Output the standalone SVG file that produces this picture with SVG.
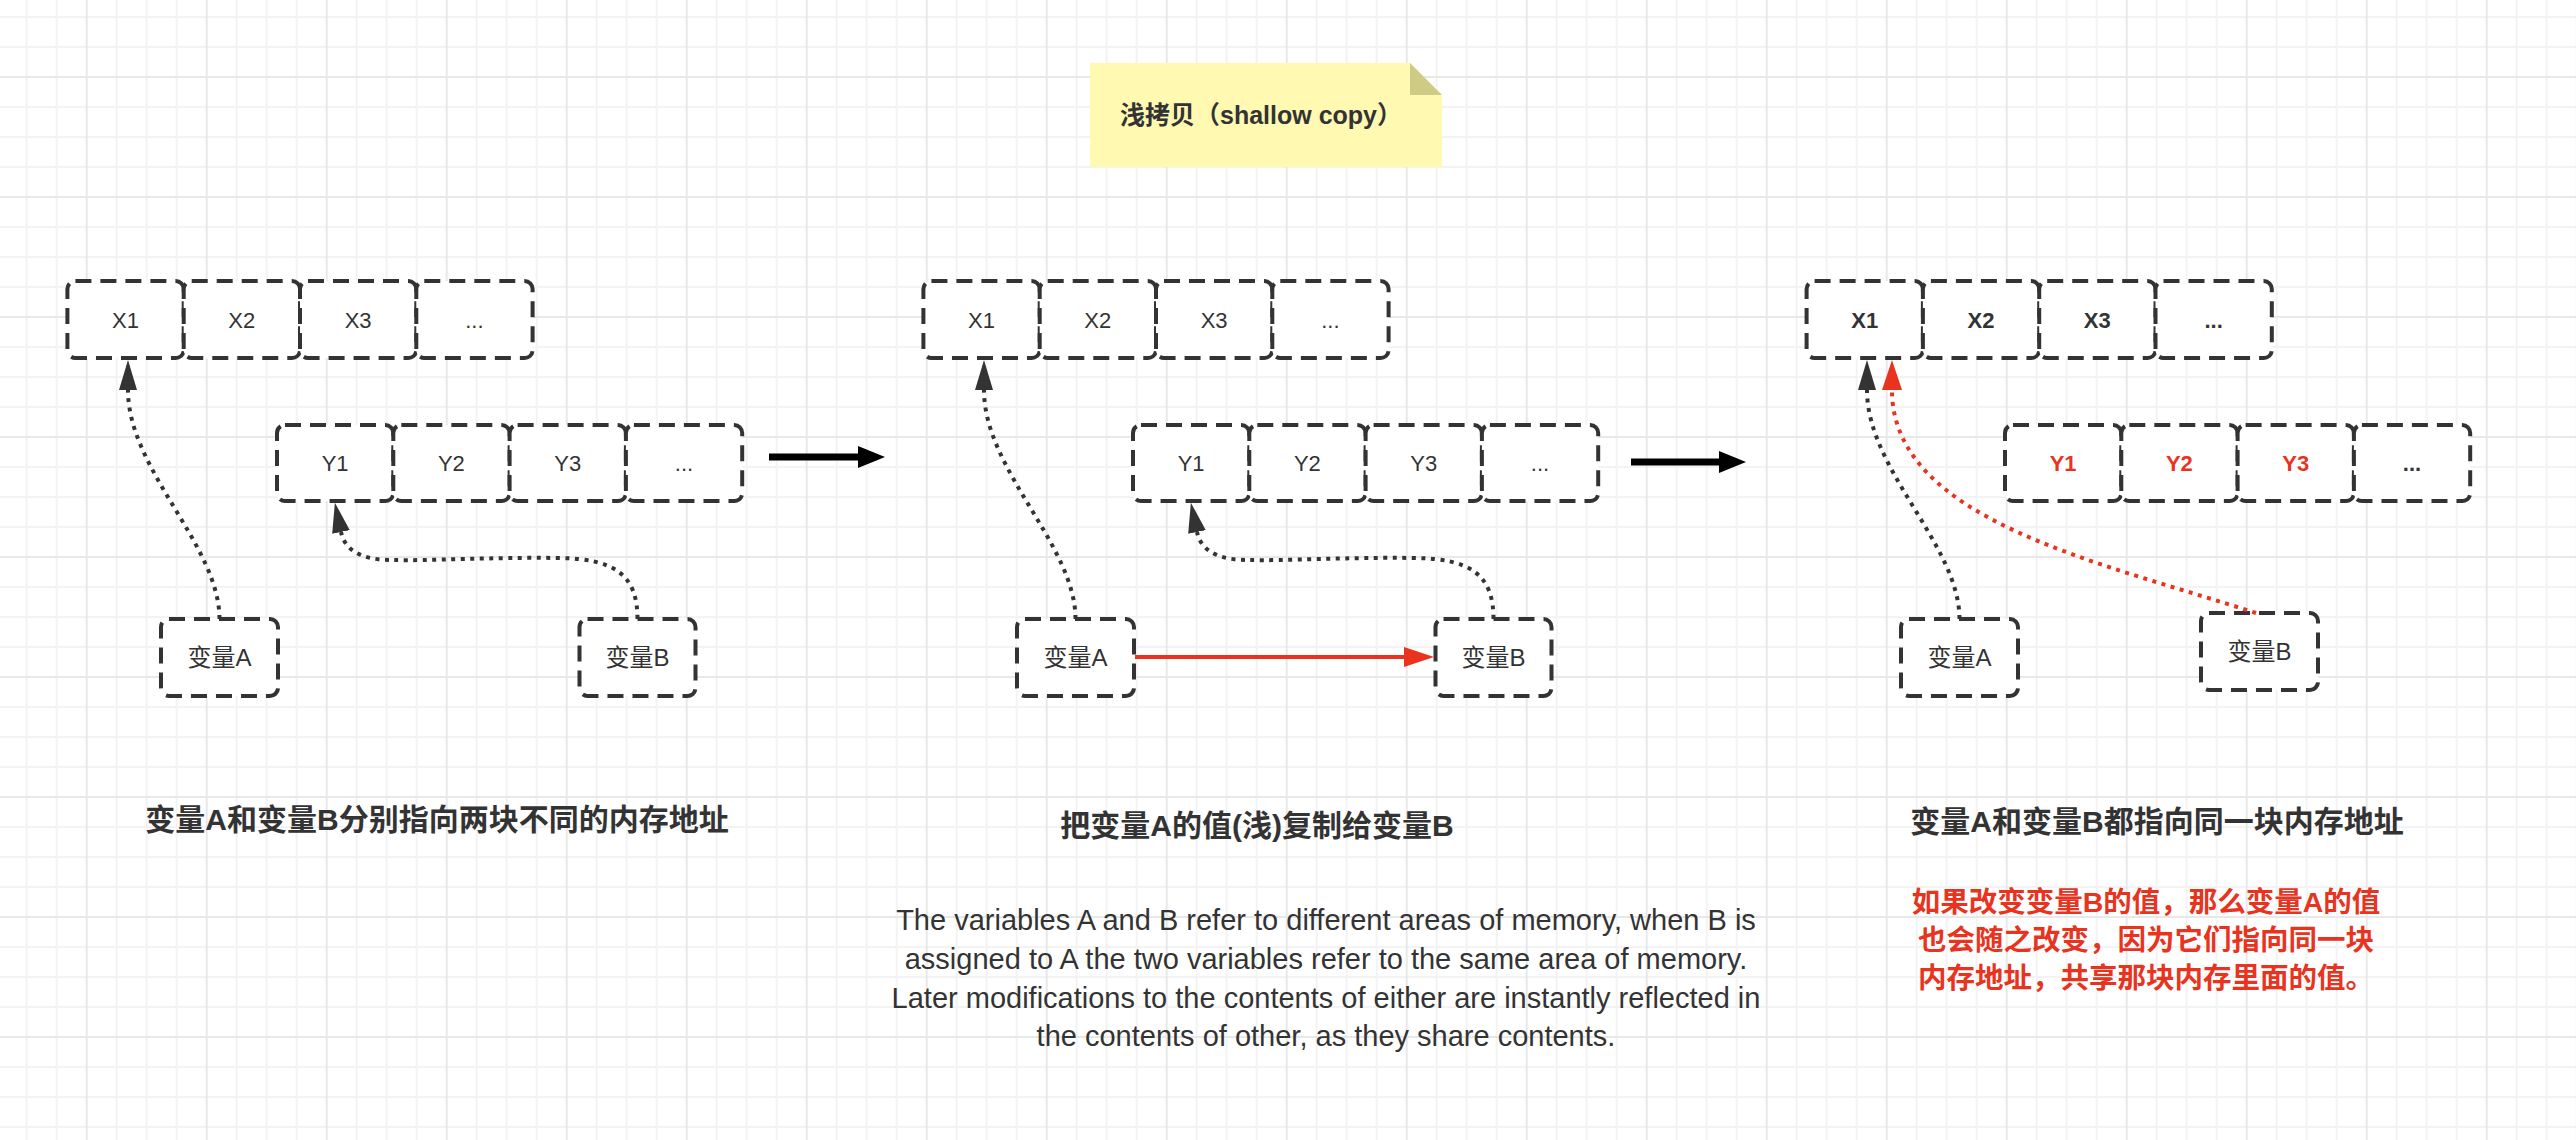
<svg xmlns="http://www.w3.org/2000/svg" width="2576" height="1140" viewBox="0 0 2576 1140">
<style>
  .cell { fill: #ffffff; stroke: #333333; stroke-width: 4; stroke-dasharray: 16 9; }
  .lbl { font-family: "Liberation Sans", "Noto Sans CJK SC", sans-serif; font-size: 22px; fill: #333333; text-anchor: middle; }
  .vlbl { font-family: "Liberation Sans", "Noto Sans CJK SC", sans-serif; font-size: 24px; fill: #333333; text-anchor: middle; }
  .bold { font-weight: bold; }
  .cap { font-family: "Liberation Sans", "Noto Sans CJK SC", sans-serif; font-size: 30px; font-weight: bold; fill: #333333; text-anchor: middle; }
  .redcap { font-family: "Liberation Sans", "Noto Sans CJK SC", sans-serif; font-size: 28.5px; font-weight: bold; fill: #e8341f; text-anchor: middle; }
  .note { font-family: "Liberation Sans", "Noto Sans CJK SC", sans-serif; font-size: 25px; font-weight: bold; fill: #333333; text-anchor: middle; }
  .para { font-family: "Liberation Sans", "Noto Sans CJK SC", sans-serif; font-size: 29px; fill: #333333; text-anchor: middle; }
  .dot { fill: none; stroke: #333333; stroke-width: 4; stroke-dasharray: 4 5.5; }
  .dotred { fill: none; stroke: #e8341f; stroke-width: 4; stroke-dasharray: 4 5.5; }
  .redline { fill: none; stroke: #e8341f; stroke-width: 4; }
  .thick { fill: none; stroke: #000000; stroke-width: 7; }
  .red { fill: #e8341f; }
</style>
<defs>
  <pattern id="grid" patternUnits="userSpaceOnUse" x="71.7" y="62" width="120" height="120">
    <path d="M45,0V120M75,0V120M105,0V120M0,45H120M0,75H120M0,105H120" stroke="#f3f3f3" stroke-width="2" fill="none"/>
    <path d="M15,0V120M0,15H120" stroke="#e8e8e8" stroke-width="2" fill="none"/>
  </pattern>
  <marker id="ahBlack" markerUnits="userSpaceOnUse" viewBox="0 0 30 18" markerWidth="30" markerHeight="18" refX="0" refY="9" orient="auto">
    <path d="M0,0L30,9L0,18Z" fill="#333333"/>
  </marker>
  <marker id="ahRed" markerUnits="userSpaceOnUse" viewBox="0 0 30 20" markerWidth="30" markerHeight="20" refX="0" refY="10" orient="auto">
    <path d="M0,0L30,10L0,20Z" fill="#e8341f"/>
  </marker>
  <marker id="ahThick" markerUnits="userSpaceOnUse" viewBox="0 0 27 22" markerWidth="27" markerHeight="22" refX="0" refY="11" orient="auto">
    <path d="M0,0L27,11L0,22Z" fill="#000000"/>
  </marker>
</defs>

<rect x="0" y="0" width="2576" height="1140" fill="#ffffff"/>
<rect x="0" y="0" width="2576" height="1140" fill="url(#grid)"/>

<g id="note-title">
  <path d="M1090,63H1410L1442,95V167H1090Z" fill="#fff9b2"/>
  <path d="M1410,63L1442,95H1410Z" fill="#cfcb84"/>
  <text class="note" x="1261" y="124">浅拷贝（shallow copy）</text>
</g>

<!-- Diagram 1 -->
<g id="d1-xrow">
  <rect class="cell" x="67.4" y="281" width="116.3" height="77" rx="8"/>
  <rect class="cell" x="183.7" y="281" width="116.3" height="77" rx="8"/>
  <rect class="cell" x="300" y="281" width="116.3" height="77" rx="8"/>
  <rect class="cell" x="416.3" y="281" width="116.3" height="77" rx="8"/>
  <text class="lbl" x="125.5" y="327.5">X1</text>
  <text class="lbl" x="241.8" y="327.5">X2</text>
  <text class="lbl" x="358.1" y="327.5">X3</text>
  <text class="lbl" x="474.4" y="327.5">...</text>
</g>
<g id="d1-yrow">
  <rect class="cell" x="277" y="425" width="116.3" height="76" rx="8"/>
  <rect class="cell" x="393.3" y="425" width="116.3" height="76" rx="8"/>
  <rect class="cell" x="509.6" y="425" width="116.3" height="76" rx="8"/>
  <rect class="cell" x="625.9" y="425" width="116.3" height="76" rx="8"/>
  <text class="lbl" x="335.1" y="471">Y1</text>
  <text class="lbl" x="451.4" y="471">Y2</text>
  <text class="lbl" x="567.7" y="471">Y3</text>
  <text class="lbl" x="684" y="471">...</text>
</g>
<g id="d1-varA">
  <rect class="cell" x="161" y="619" width="117" height="77" rx="8"/>
  <text class="vlbl" x="219.5" y="666">变量A</text>
</g>
<g id="d1-varB">
  <rect class="cell" x="579.5" y="619" width="116" height="77" rx="8"/>
  <text class="vlbl" x="637.5" y="666">变量B</text>
</g>

<!-- Diagram 2 -->
<g id="d2-xrow">
  <rect class="cell" x="923.4" y="281" width="116.3" height="77" rx="8"/>
  <rect class="cell" x="1039.7" y="281" width="116.3" height="77" rx="8"/>
  <rect class="cell" x="1156" y="281" width="116.3" height="77" rx="8"/>
  <rect class="cell" x="1272.3" y="281" width="116.3" height="77" rx="8"/>
  <text class="lbl" x="981.5" y="327.5">X1</text>
  <text class="lbl" x="1097.8" y="327.5">X2</text>
  <text class="lbl" x="1214.1" y="327.5">X3</text>
  <text class="lbl" x="1330.4" y="327.5">...</text>
</g>
<g id="d2-yrow">
  <rect class="cell" x="1133" y="425" width="116.3" height="76" rx="8"/>
  <rect class="cell" x="1249.3" y="425" width="116.3" height="76" rx="8"/>
  <rect class="cell" x="1365.6" y="425" width="116.3" height="76" rx="8"/>
  <rect class="cell" x="1481.9" y="425" width="116.3" height="76" rx="8"/>
  <text class="lbl" x="1191.1" y="471">Y1</text>
  <text class="lbl" x="1307.4" y="471">Y2</text>
  <text class="lbl" x="1423.7" y="471">Y3</text>
  <text class="lbl" x="1540" y="471">...</text>
</g>
<g id="d2-varA">
  <rect class="cell" x="1017" y="619" width="117" height="77" rx="8"/>
  <text class="vlbl" x="1075.5" y="666">变量A</text>
</g>
<g id="d2-varB">
  <rect class="cell" x="1435.5" y="619" width="116" height="77" rx="8"/>
  <text class="vlbl" x="1493.5" y="666">变量B</text>
</g>

<!-- Diagram 3 -->
<g id="d3-xrow">
  <rect class="cell" x="1806.6" y="281" width="116.3" height="77" rx="8"/>
  <rect class="cell" x="1922.9" y="281" width="116.3" height="77" rx="8"/>
  <rect class="cell" x="2039.2" y="281" width="116.3" height="77" rx="8"/>
  <rect class="cell" x="2155.5" y="281" width="116.3" height="77" rx="8"/>
  <text class="lbl bold" x="1864.7" y="327.5">X1</text>
  <text class="lbl bold" x="1981" y="327.5">X2</text>
  <text class="lbl bold" x="2097.3" y="327.5">X3</text>
  <text class="lbl bold" x="2213.6" y="327.5">...</text>
</g>
<g id="d3-yrow">
  <rect class="cell" x="2005" y="425" width="116.3" height="76" rx="8"/>
  <rect class="cell" x="2121.3" y="425" width="116.3" height="76" rx="8"/>
  <rect class="cell" x="2237.6" y="425" width="116.3" height="76" rx="8"/>
  <rect class="cell" x="2353.9" y="425" width="116.3" height="76" rx="8"/>
  <text class="lbl bold red" x="2063.1" y="471">Y1</text>
  <text class="lbl bold red" x="2179.4" y="471">Y2</text>
  <text class="lbl bold red" x="2295.7" y="471">Y3</text>
  <text class="lbl bold" x="2412" y="471">...</text>
</g>
<g id="d3-varA">
  <rect class="cell" x="1901" y="619" width="117" height="77" rx="8"/>
  <text class="vlbl" x="1959.5" y="666">变量A</text>
</g>
<g id="d3-varB">
  <rect class="cell" x="2201" y="613" width="117" height="77" rx="8"/>
  <text class="vlbl" x="2259.5" y="660">变量B</text>
</g>

<g id="connectors">
  <path class="dot" d="M219.5,619C219.5,545 128,470 128,390" marker-end="url(#ahBlack)"/>
  <path class="dot" d="M637.5,619C637.5,575 615,559 560,558C490,557 430,561 392,560C372,560 346,556 341,532" marker-end="url(#ahBlack)"/>
  <path class="thick" d="M769,457L858,457" marker-end="url(#ahThick)"/>
  <path class="dot" d="M1075.5,619C1075.5,545 984,470 984,390" marker-end="url(#ahBlack)"/>
  <path class="dot" d="M1493.5,619C1493.5,575 1471,559 1416,558C1346,557 1286,561 1248,560C1228,560 1202,556 1197,532" marker-end="url(#ahBlack)"/>
  <path class="redline" d="M1135,657L1404,657" marker-end="url(#ahRed)"/>
  <path class="thick" d="M1631,462L1719,462" marker-end="url(#ahThick)"/>
  <path class="dot" d="M1959.5,619C1959.5,545 1867,470 1867,390" marker-end="url(#ahBlack)"/>
  <path class="dotred" d="M2256,613C2100,562 1892,520 1892,390" marker-end="url(#ahRed)"/>
</g>

<g id="captions">
  <text class="cap" x="437" y="830">变量A和变量B分别指向两块不同的内存地址</text>
  <text class="cap" x="1257" y="836">把变量A的值(浅)复制给变量B</text>
  <text class="cap" x="2157" y="832">变量A和变量B都指向同一块内存地址</text>
  <text class="redcap" x="2146" y="912">如果改变变量B的值，那么变量A的值</text>
  <text class="redcap" x="2146" y="950">也会随之改变，因为它们指向同一块</text>
  <text class="redcap" x="2146" y="988">内存地址，共享那块内存里面的值。</text>
  <text class="para" x="1326" y="930">The variables A and B refer to different areas of memory, when B is</text>
  <text class="para" x="1326" y="969">assigned to A the two variables refer to the same area of memory.</text>
  <text class="para" x="1326" y="1008">Later modifications to the contents of either are instantly reflected in</text>
  <text class="para" x="1326" y="1046">the contents of other, as they share contents.</text>
</g>
</svg>
